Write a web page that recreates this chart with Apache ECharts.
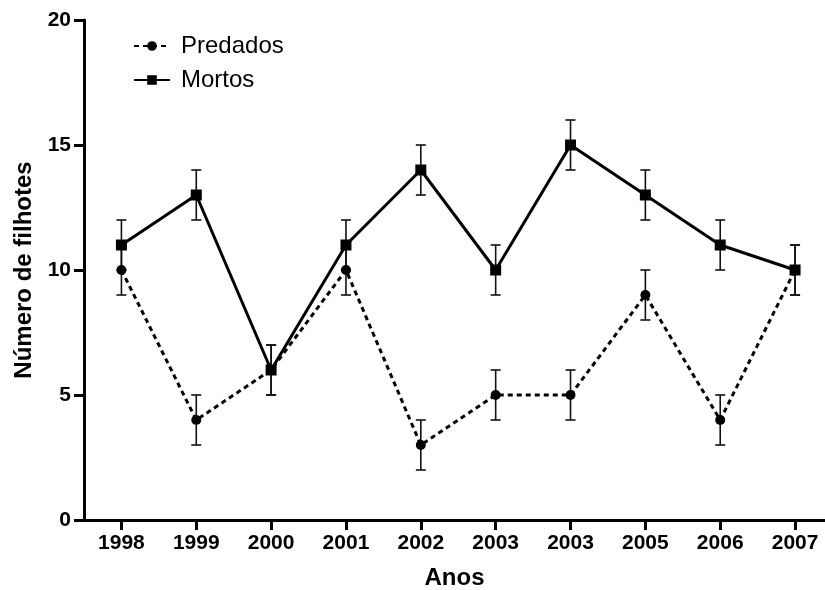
<!DOCTYPE html>
<html>
<head>
<meta charset="utf-8">
<script src="https://cdn.jsdelivr.net/npm/echarts@6/dist/echarts.min.js"></script>
<style>html,body{margin:0;padding:0;background:#fff}#c{width:825px;height:590px}</style>
</head>
<body>
<div id="c"></div>
<script>
const years = ['1998','1999','2000','2001','2002','2003','2003','2005','2006','2007'];
const predados = [10, 4, 6, 10, 3, 5, 5, 9, 4, 10];
const predadosErr = [1, 1, 1, 1, 1, 1, 1, 1, 1, 1];
const mortos = [11, 13, 6, 11, 14, 10, 15, 13, 11, 10];
const mortosErr = [1, 1, 1, 1, 1, 1, 1, 1, 1, 1];
const yTicks = [0, 5, 10, 15, 20];

const FONT = '"Liberation Sans", Arial, Helvetica, sans-serif';
const idx = years.map((_, i) => i);

function errData(vals, errs) {
  return vals.map((v, i) => [i, v - errs[i], v + errs[i]]);
}
function renderErr(params, api) {
  const x = api.value(0);
  const lo = api.coord([x, api.value(1)]);
  const hi = api.coord([x, api.value(2)]);
  const w = 5;
  const style = { stroke: '#111', lineWidth: 1.6, fill: null };
  return {
    type: 'group',
    children: [
      { type: 'line', shape: { x1: lo[0], y1: lo[1], x2: hi[0], y2: hi[1] }, style },
      { type: 'line', shape: { x1: lo[0] - w, y1: lo[1], x2: lo[0] + w, y2: lo[1] }, style },
      { type: 'line', shape: { x1: hi[0] - w, y1: hi[1], x2: hi[0] + w, y2: hi[1] }, style }
    ]
  };
}

const chart = echarts.init(document.getElementById('c'), null, { renderer: 'canvas' });
chart.setOption({
  animation: false,
  backgroundColor: '#fff',
  textStyle: { fontFamily: FONT },
  grid: { left: 84, right: 0, top: 20, bottom: 70, containLabel: false, outerBoundsMode: 'none' },
  legend: {
    orient: 'vertical',
    left: 128,
    top: 29,
    itemWidth: 36,
    itemHeight: 12,
    itemGap: 10,
    textStyle: { fontFamily: FONT, fontSize: 24, color: '#000', padding: [0, 0, 0, 6] },
    data: ['Predados', 'Mortos']
  },
  xAxis: {
    type: 'value',
    min: -0.5,
    max: 9.4,
    name: 'Anos',
    nameLocation: 'middle',
    nameGap: 46,
    nameTextStyle: { fontFamily: FONT, fontSize: 24, fontWeight: 'bold', color: '#000' },
    axisLine: { onZero: false, lineStyle: { color: '#000', width: 3 } },
    axisTick: { show: true, length: 10, lineStyle: { color: '#000', width: 3 }, customValues: idx },
    axisLabel: {
      customValues: idx,
      margin: 13,
      fontFamily: FONT, fontSize: 21, fontWeight: 'bold', color: '#000',
      formatter: v => years[Math.round(v)]
    },
    splitLine: { show: false }
  },
  yAxis: {
    type: 'value',
    min: 0,
    max: 20,
    interval: 5,
    name: 'Número de filhotes',
    nameLocation: 'middle',
    nameGap: 44,
    nameTextStyle: { fontFamily: FONT, fontSize: 24, fontWeight: 'bold', color: '#000' },
    axisLine: { show: true, onZero: false, lineStyle: { color: '#000', width: 3 } },
    axisTick: { show: true, length: 10, lineStyle: { color: '#000', width: 3 }, customValues: yTicks },
    axisLabel: { customValues: yTicks, margin: 13, fontFamily: FONT, fontSize: 21, fontWeight: 'bold', color: '#000' },
    splitLine: { show: false }
  },
  series: [
    {
      type: 'custom', name: 'errP', renderItem: renderErr,
      data: errData(predados, predadosErr), z: 1, silent: true
    },
    {
      type: 'custom', name: 'errM', renderItem: renderErr,
      data: errData(mortos, mortosErr), z: 1, silent: true
    },
    {
      name: 'Predados', type: 'line', z: 3,
      data: predados.map((v, i) => [i, v]),
      symbol: 'circle', symbolSize: 10,
      lineStyle: { color: '#000', width: 3, type: [5, 4] },
      itemStyle: { color: '#000' }
    },
    {
      name: 'Mortos', type: 'line', z: 4,
      data: mortos.map((v, i) => [i, v]),
      symbol: 'rect', symbolSize: 11,
      lineStyle: { color: '#000', width: 3 },
      itemStyle: { color: '#000' }
    }
  ]
});
</script>
</body>
</html>
